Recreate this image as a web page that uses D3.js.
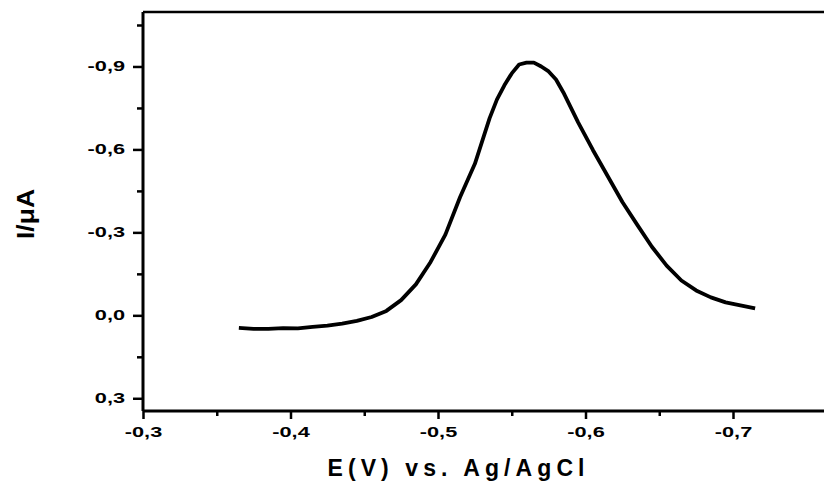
<!DOCTYPE html>
<html>
<head>
<meta charset="utf-8">
<script src="https://cdn.jsdelivr.net/npm/d3@7"></script>
<style>
  html, body { margin: 0; padding: 0; background: #fff; }
  svg { display: block; }
  text { font-family: "Liberation Sans", Arial, sans-serif; font-weight: bold; fill: #000; }
</style>
</head>
<body>
<svg id="chart" width="824" height="484"></svg>
<script>
// ---- data ----
const potential = [-0.365, -0.375, -0.385, -0.395, -0.405, -0.415, -0.425, -0.435, -0.445, -0.455,
  -0.465, -0.475, -0.485, -0.495, -0.505, -0.515, -0.525, -0.535, -0.540, -0.545, -0.550, -0.555,
  -0.560, -0.565, -0.570, -0.575, -0.580, -0.585, -0.595, -0.605, -0.615, -0.625, -0.635, -0.645,
  -0.655, -0.665, -0.675, -0.685, -0.695, -0.705, -0.715];
const current = [0.045, 0.049, 0.049, 0.046, 0.047, 0.042, 0.037, 0.030, 0.020, 0.006,
  -0.016, -0.055, -0.112, -0.193, -0.292, -0.428, -0.548, -0.713, -0.781, -0.832, -0.875, -0.907,
  -0.914, -0.914, -0.900, -0.882, -0.853, -0.806, -0.698, -0.598, -0.504, -0.410, -0.328, -0.248,
  -0.180, -0.126, -0.090, -0.065, -0.047, -0.036, -0.025];
const xMajorTicks = [-0.3, -0.4, -0.5, -0.6, -0.7];
const xMinorTicks = [-0.35, -0.45, -0.55, -0.65];
const yMajorTicks = [0.3, 0.0, -0.3, -0.6, -0.9];
const yMinorTicks = [0.15, -0.15, -0.45, -0.75, -1.05];
const xTitle = "E(V) vs. Ag/AgCl";
const yTitle = "I/\u03bcA";

// ---- layout ----
const svg = d3.select("#chart");
const mLeft = 143, mTop = 12, mBottom = 411;
const x = d3.scaleLinear().domain([-0.3, -0.775]).range([mLeft, mLeft + 0.475 * 1475]);
const y = d3.scaleLinear().domain([-1.097, 0.346]).range([mTop, mBottom]);

const fmt = v => d3.format(".1f")(v).replace("\u2212", "-").replace(".", ",");
const stretch = 1.55;

// top frame line
svg.append("line")
  .attr("x1", mLeft).attr("x2", 824).attr("y1", mTop).attr("y2", mTop)
  .attr("stroke", "#000").attr("stroke-width", 2.5);

// x axis
const gx = svg.append("g").attr("transform", `translate(0,${mBottom})`);
gx.call(d3.axisBottom(x).tickValues(xMajorTicks).tickSize(8).tickPadding(8).tickFormat(fmt));
gx.append("g").call(d3.axisBottom(x).tickValues(xMinorTicks).tickSize(5).tickFormat(""))
  .select(".domain").remove();
gx.selectAll(".domain").attr("stroke-width", 3).attr("d", `M${mLeft},0H830`);
gx.selectAll(".tick line").attr("stroke-width", 2.5);
gx.selectAll(".tick text").attr("font-size", 14).attr("dy", "0.71em")
  .each(function() { const w = this.getComputedTextLength(); d3.select(this).attr("textLength", w * stretch).attr("lengthAdjust", "spacingAndGlyphs"); });

// y axis
const gy = svg.append("g").attr("transform", `translate(${mLeft},0)`);
gy.call(d3.axisLeft(y).tickValues(yMajorTicks).tickSize(10).tickPadding(8).tickFormat(fmt));
gy.append("g").call(d3.axisLeft(y).tickValues(yMinorTicks).tickSize(6).tickFormat(""))
  .select(".domain").remove();
gy.selectAll(".domain").attr("stroke-width", 3).attr("d", `M0,${mTop}V${mBottom}`);
gy.selectAll(".tick line").attr("stroke-width", 2.5);
gy.selectAll(".tick text").attr("font-size", 14)
  .each(function() { const w = this.getComputedTextLength(); d3.select(this).attr("textLength", w * stretch).attr("lengthAdjust", "spacingAndGlyphs"); });

// curve
const pts = potential.map((e, i) => [e, current[i]]);
svg.append("path")
  .datum(pts)
  .attr("fill", "none")
  .attr("stroke", "#000")
  .attr("stroke-width", 3.8)
  .attr("stroke-linejoin", "round")
  .attr("stroke-linecap", "butt")
  .attr("d", d3.line().x(d => x(d[0])).y(d => y(d[1])).curve(d3.curveLinear));

// axis titles
svg.append("text")
  .attr("x", 456).attr("y", 476)
  .attr("text-anchor", "middle")
  .attr("font-size", 23)
  .attr("textLength", 257).attr("lengthAdjust", "spacing")
  .text(xTitle);

svg.append("text")
  .attr("transform", "translate(34,214) rotate(-90)")
  .attr("text-anchor", "middle")
  .attr("font-size", 23)
  .attr("textLength", 50).attr("lengthAdjust", "spacingAndGlyphs")
  .text(yTitle);
</script>
</body>
</html>
